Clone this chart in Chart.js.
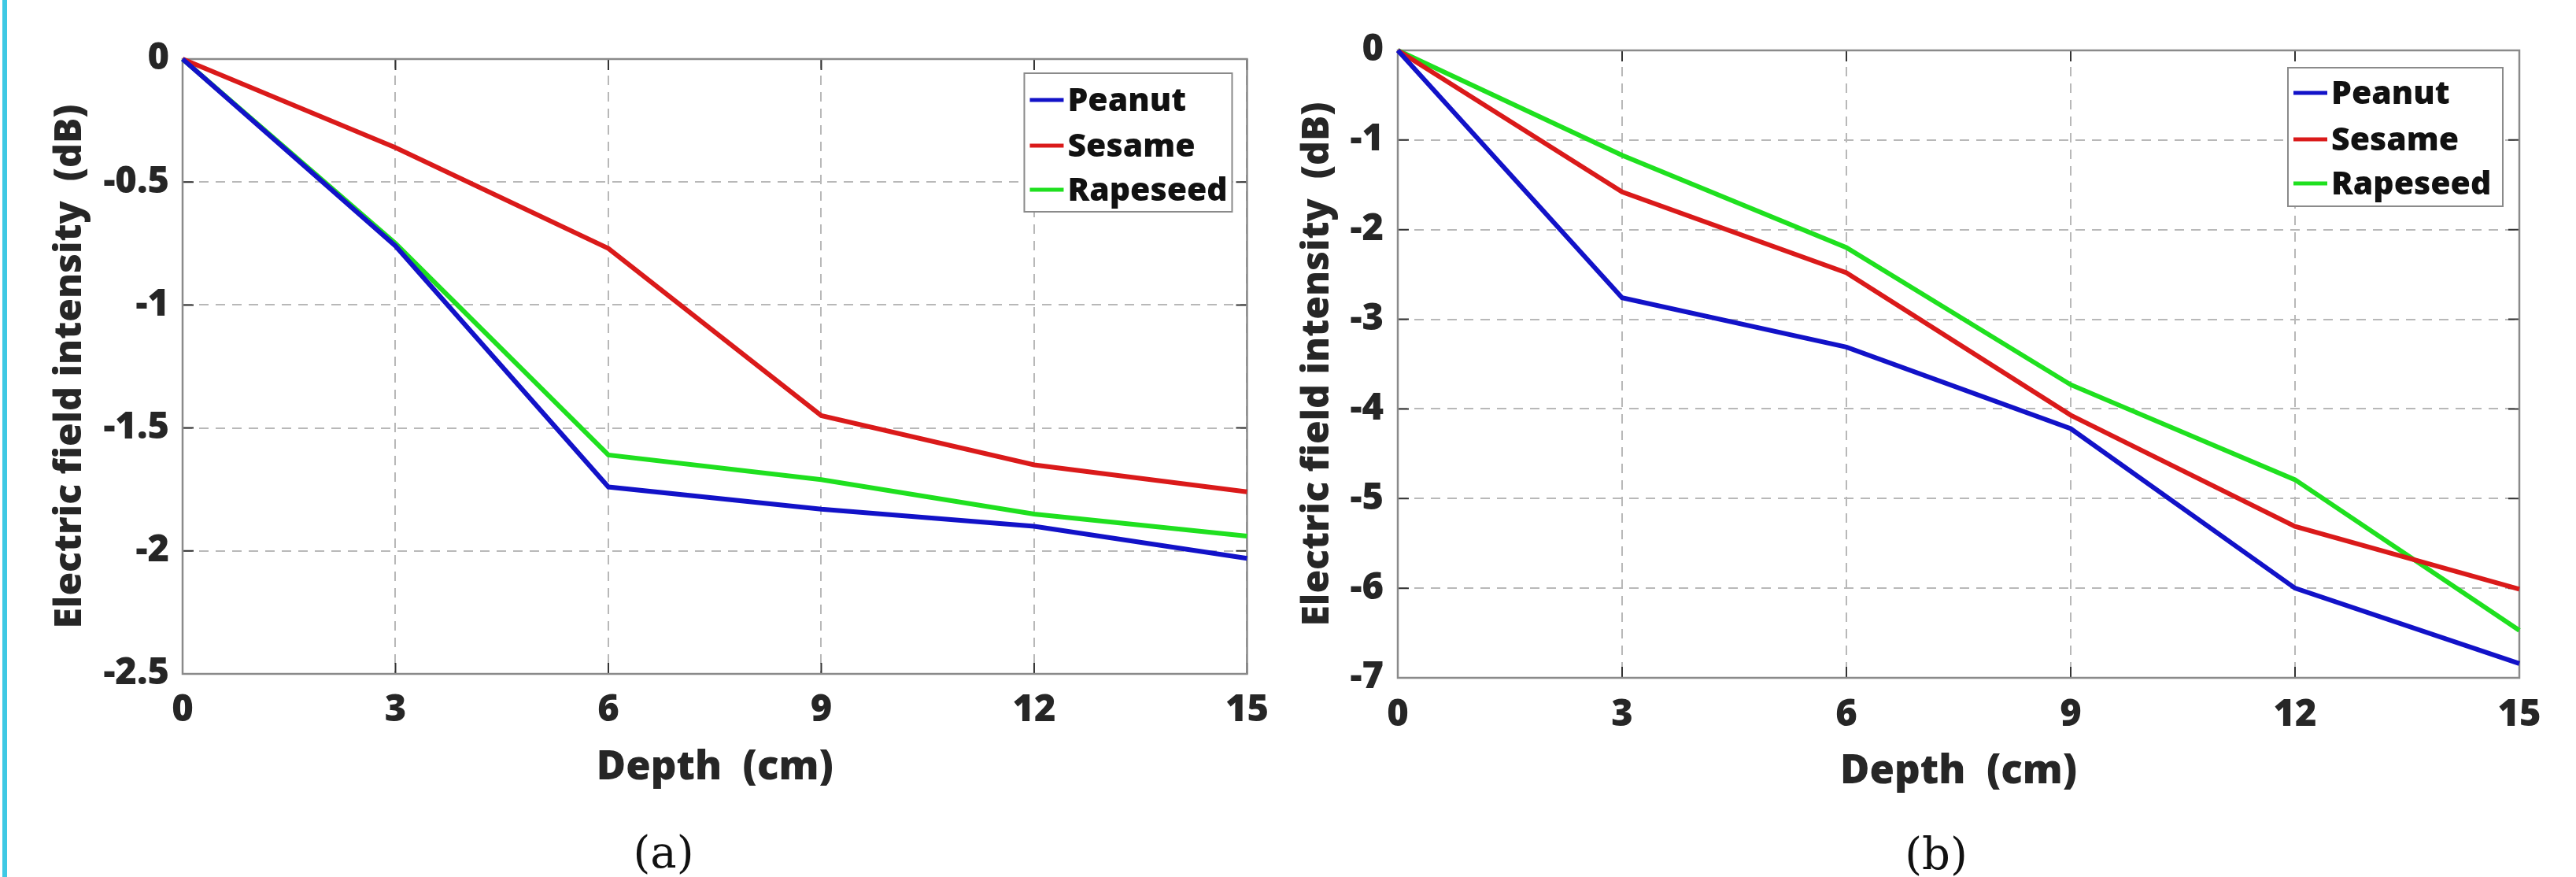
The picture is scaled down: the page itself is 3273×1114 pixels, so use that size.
<!DOCTYPE html>
<html>
<head>
<meta charset="utf-8">
<script src="https://cdn.jsdelivr.net/npm/chart.js@4/dist/chart.umd.min.js"></script>
<style>
html,body{margin:0;padding:0;background:#fff;width:3273px;height:1114px;overflow:hidden;}
body{position:relative;}
#bar{position:absolute;left:3px;top:0;width:6px;height:1114px;background:#3fc9e4;}
canvas{position:absolute;top:0;}
#cA{left:0;}
#cB{left:1630px;}
.cap{position:absolute;font-family:"DejaVu Serif",serif;font-size:56px;color:#111;transform:translateX(-50%);line-height:1;white-space:nowrap;}
</style>
</head>
<body>
<div id="bar"></div>
<canvas id="cA" width="1630" height="1030"></canvas>
<canvas id="cB" width="1643" height="1030"></canvas>
<div class="cap" style="left:843px;top:1055px">(a)</div>
<div class="cap" style="left:2460px;top:1057px">(b)</div>
<script>
// ---------- data ----------
const depth = [0, 3, 6, 9, 12, 15];
const xTicks = [0, 3, 6, 9, 12, 15];
const seriesNames = ['Peanut', 'Sesame', 'Rapeseed'];
const seriesColors = ['#1212c8', '#da1a1a', '#1fe01f'];

// panel (a)
const peanutA   = [0, -0.76, -1.74, -1.83, -1.90, -2.03];
const sesameA   = [0, -0.36, -0.77, -1.45, -1.65, -1.76];
const rapeseedA = [0, -0.75, -1.61, -1.71, -1.85, -1.94];
const yTicksA   = [0, -0.5, -1, -1.5, -2, -2.5];

// panel (b)
const peanutB   = [0, -2.76, -3.31, -4.22, -6.00, -6.84];
const sesameB   = [0, -1.58, -2.48, -4.07, -5.31, -6.01];
const rapeseedB = [0, -1.17, -2.20, -3.73, -4.79, -6.47];
const yTicksB   = [0, -1, -2, -3, -4, -5, -6, -7];

const xTitle = 'Depth  (cm)';
const yTitle = 'Electric field intensity  (dB)';

// ---------- rendering ----------
const FONT = '"Open Sans", "DejaVu Sans", sans-serif';
const WEIGHT = 800;

const framePlugin = {
  id: 'frame',
  beforeDatasetsDraw(chart) {
    const {ctx, chartArea: a, scales: {x, y}} = chart;
    ctx.save();
    ctx.strokeStyle = '#333';
    ctx.lineWidth = 2;
    ctx.beginPath();
    x.ticks.forEach(t => {
      const p = x.getPixelForValue(t.value);
      ctx.moveTo(p, a.bottom); ctx.lineTo(p, a.bottom - 14);
      ctx.moveTo(p, a.top); ctx.lineTo(p, a.top + 14);
    });
    y.ticks.forEach(t => {
      const p = y.getPixelForValue(t.value);
      ctx.moveTo(a.left, p); ctx.lineTo(a.left + 14, p);
      ctx.moveTo(a.right, p); ctx.lineTo(a.right - 14, p);
    });
    ctx.stroke();
    ctx.strokeStyle = '#8a8a8a';
    ctx.lineWidth = 2.5;
    ctx.strokeRect(a.left, a.top, a.right - a.left, a.bottom - a.top);
    ctx.restore();
  }
};

const legendPlugin = {
  id: 'boxLegend',
  afterDatasetsDraw(chart, args, o) {
    const {ctx, chartArea: a} = chart;
    const bx = a.right - o.right - o.width;
    const by = a.top + o.top;
    ctx.save();
    ctx.fillStyle = '#fff';
    ctx.fillRect(bx, by, o.width, o.height);
    ctx.strokeStyle = '#8a8a8a';
    ctx.lineWidth = 2;
    ctx.strokeRect(bx, by, o.width, o.height);
    ctx.font = WEIGHT + ' 41px ' + FONT;
    ctx.textBaseline = 'middle';
    ctx.textAlign = 'left';
    chart.data.datasets.forEach((ds, i) => {
      const cy = by + o.rows[i];
      ctx.strokeStyle = ds.borderColor;
      ctx.lineWidth = 5;
      ctx.beginPath();
      ctx.moveTo(bx + 7, cy);
      ctx.lineTo(bx + 50, cy);
      ctx.stroke();
      ctx.fillStyle = '#111';
      ctx.fillText(ds.label, bx + 55, cy + 2);
    });
    ctx.restore();
  }
};

function makeChart(id, series, yTicks, g) {
  const canvas = document.getElementById(id);
  const W = canvas.width, H = canvas.height;
  return new Chart(canvas.getContext('2d'), {
    type: 'line',
    data: {
      datasets: series.map((vals, i) => ({
        label: seriesNames[i],
        data: depth.map((d, j) => ({x: d, y: vals[j]})),
        borderColor: seriesColors[i],
        backgroundColor: seriesColors[i],
        borderWidth: 6,
        pointRadius: 0,
        tension: 0,
        fill: false,
        clip: 6
      }))
    },
    options: {
      responsive: false,
      animation: false,
      events: [],
      layout: {padding: {left: 0, top: g.top, right: W - g.right, bottom: 0}},
      plugins: {
        legend: {display: false},
        tooltip: {enabled: false},
        boxLegend: g.legend
      },
      scales: {
        x: {
          type: 'linear',
          position: 'bottom',
          min: xTicks[0],
          max: xTicks[xTicks.length - 1],
          afterBuildTicks: s => { s.ticks = xTicks.map(v => ({value: v})); },
          afterFit: s => { s.height = H - g.bottom; },
          ticks: {
            font: {family: FONT, size: 47, weight: WEIGHT},
            color: '#262626',
            padding: g.xLabelPad,
            maxRotation: 0,
            autoSkip: false,
            callback: v => String(v)
          },
          grid: {color: '#b8b8b8', lineWidth: 2, drawTicks: false},
          border: {display: false, dash: [12, 9]},
          title: {
            display: true,
            text: xTitle,
            color: '#262626',
            font: {family: FONT, size: 51, weight: WEIGHT, lineHeight: 1.2},
            padding: {top: 0, bottom: g.xTitlePad}
          }
        },
        y: {
          type: 'linear',
          position: 'left',
          min: yTicks[yTicks.length - 1],
          max: yTicks[0],
          afterBuildTicks: s => { s.ticks = yTicks.slice().reverse().map(v => ({value: v})); },
          afterFit: s => { s.width = g.left; },
          ticks: {
            font: {family: FONT, size: 47, weight: WEIGHT},
            color: '#262626',
            padding: g.yLabelPad,
            autoSkip: false,
            callback: v => String(+Number(v).toFixed(2))
          },
          grid: {color: '#b8b8b8', lineWidth: 2, drawTicks: false},
          border: {display: false, dash: [12, 9]},
          title: {
            display: true,
            text: yTitle,
            color: '#262626',
            font: {family: FONT, size: 48, weight: WEIGHT, lineHeight: 1.2},
            padding: {top: g.yTitlePad, bottom: 0}
          }
        }
      }
    },
    plugins: [framePlugin, legendPlugin]
  });
}

function draw() {
  makeChart('cA', [peanutA, sesameA, rapeseedA], yTicksA, {
    left: 232, top: 75, right: 1601, bottom: 856,
    xLabelPad: 18, yLabelPad: 17, xTitlePad: 24, yTitlePad: 61,
    legend: {right: 19, top: 18, width: 264, height: 176, rows: [34, 92, 148]}
  });
  makeChart('cB', [peanutB, sesameB, rapeseedB], yTicksB, {
    left: 146, top: 64, right: 1571, bottom: 861,
    xLabelPad: 19, yLabelPad: 18, xTitlePad: 19, yTitlePad: 16,
    legend: {right: 21, top: 22, width: 273, height: 176, rows: [32, 91, 147]}
  });
}

Promise.all([
  document.fonts.load('800 46px "Open Sans"'),
  document.fonts.load('50px "DejaVu Serif"')
]).then(draw, draw);
</script>
</body>
</html>
